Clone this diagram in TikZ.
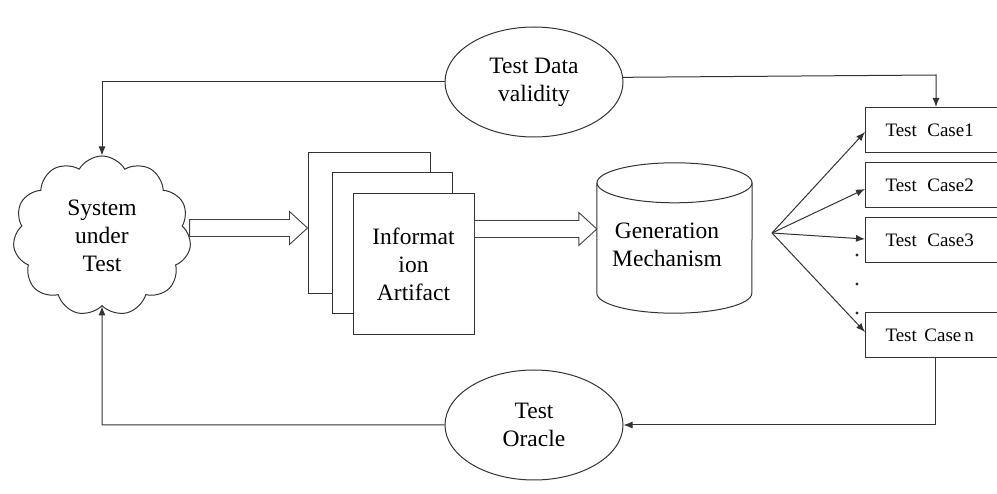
\documentclass[tikz,border=0pt]{standalone}
\usepackage{fontspec}
\setmainfont{Liberation Serif}
\usetikzlibrary{shapes.symbols,shapes.geometric,arrows.meta,calc}

\tikzset{
  line/.style={draw=black!80, line width=1pt},
  conn/.style={line, -{Latex[length=9pt,width=7pt]}},
  biglabel/.style={font=\fontsize{23.5}{28}\selectfont, align=center},
  oval/.style={ellipse, line, fill=white, minimum width=178pt, minimum height=110pt, inner sep=0pt, biglabel},
  sheet/.style={rectangle, line, fill=white, inner sep=0pt},
  casebox/.style={rectangle, line, fill=white, anchor=west, minimum height=45pt,
    text width=110pt, inner xsep=20pt, align=left, font=\fontsize{19}{22}\selectfont},
  blockarrow/.style={draw=black!75, line width=0.9pt, fill=white,
    to path={let \p1=(\tikztostart), \p2=(\tikztotarget) in
      (\x1,\y2+8.5pt) -- (\x2-18pt,\y2+8.5pt) -- (\x2-18pt,\y2+16.5pt) -- (\tikztotarget)
      -- (\x2-18pt,\y2-16.5pt) -- (\x2-18pt,\y2-8.5pt) -- (\x1,\y2-8.5pt) -- cycle}},
}

\begin{document}
\begin{tikzpicture}[x=1pt,y=1pt]
\useasboundingbox (0,0) rectangle (997,-494);

% system under test
\node[cloud, cloud puffs=11, cloud puff arc=120, aspect=1.1, line, fill=white,
      minimum width=178pt, minimum height=160pt, inner sep=0pt, biglabel]
  (sut) at (102,-236) {System\\under\\Test};

% stacked information sheets
\node[sheet, minimum width=122pt, minimum height=141pt] (art1) at (369,-223.5) {};
\node[sheet, minimum width=120pt, minimum height=141pt] (art2) at (392,-243.5) {};
\node[sheet, minimum width=121pt, minimum height=141pt, biglabel] (art3) at (413.5,-264) {Informat\\ion\\Artifact};

% generation mechanism (cylinder)
\node[rectangle, minimum width=155pt, minimum height=150pt, inner sep=0pt] (gen) at (674.5,-238) {};
\draw[line, fill=white] ([yshift=-20pt]gen.north west) -- ([yshift=20pt]gen.south west)
  arc(180:360:77.5 and 20) -- ([yshift=-20pt]gen.north east);
\draw[line] ([yshift=-20pt]gen.north) ellipse (77.5 and 20);
\node[biglabel] (gentext) at (667,-245) {Generation\\Mechanism};

% ovals
\node[oval] (valid) at (534,-82) {Test Data\\validity};
\node[oval] (oracle) at (534,-425) {Test\\Oracle};

% test cases
\node[casebox] (tc1) at (865,-130) {Test\hspace{0.55em}Case1};
\node[casebox] (tc2) at (865,-185.5) {Test\hspace{0.55em}Case2};
\node[casebox] (tc3) at (865,-240.5) {Test\hspace{0.55em}Case3};
\node[casebox] (tcn) at (865,-335.5) {Test\hspace{0.4em}Case\hspace{0.15em}n};

\foreach \yy in {255,284,313}
  \fill[black!85] (857,-\yy) circle (1.6);

% block arrows
\draw[blockarrow] (sut.east |- 0,-228) to (art1.west |- 0,-228);
\draw[blockarrow] (art3.east |- 0,-229) to (gen.west |- 0,-229);

% fan to test cases
\coordinate (fan) at (772,-233);
\draw[conn] (fan) -- ([yshift=-2pt]tc1.west);
\draw[conn] (fan) -- ([yshift=-3.5pt]tc2.west);
\draw[conn] (fan) -- ([yshift=1.5pt]tc3.west);
\draw[conn] (fan) -- ([yshift=3.5pt]tcn.west);

% feedback loops
\coordinate (tl) at (102,-82);
\coordinate (tr) at (936,-75);
\coordinate (bl) at (102,-425);
\coordinate (br) at (935,-425);
\draw[conn] (valid.west) -- (tl) -- (sut.north);
\draw[conn] (valid.3) -- (tr) -- (tr |- tc1.north);
\draw[conn] (br |- tcn.south) -- (br) -- (oracle.east);
\draw[conn] (oracle.west) -- (bl) -- (sut.south);
\end{tikzpicture}
\end{document}
